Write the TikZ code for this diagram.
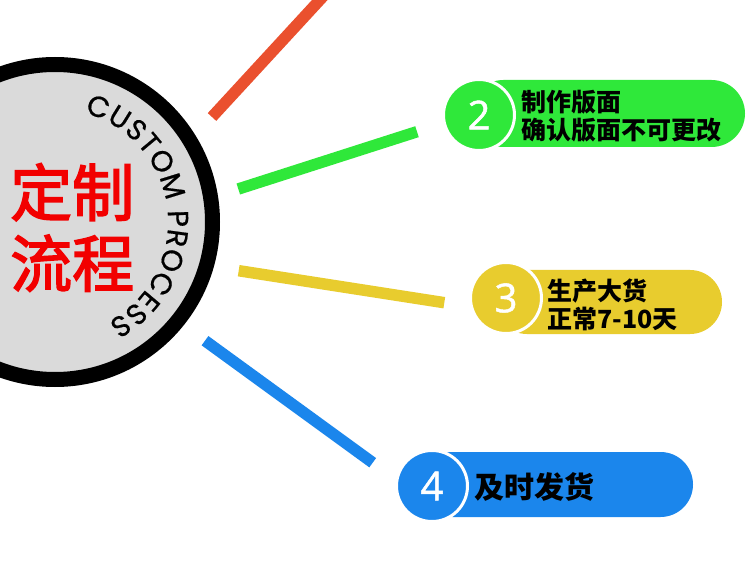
\documentclass[tikz,border=0pt]{standalone}
\usepackage{fontspec}
\newfontfamily\cjk{Noto Sans CJK SC}
\newfontfamily\cjktitle[FakeBold=2.5]{Noto Sans CJK SC}
\newfontfamily\numfont[FakeBold=1.2]{Open Sans}
\newfontfamily\arcfont[FakeBold=0.6]{Poppins}
\usetikzlibrary{decorations.text,shapes.misc}
\definecolor{cred}{HTML}{EA502E}
\definecolor{cgreen}{HTML}{2FE83A}
\definecolor{cyellow}{HTML}{E8CC2E}
\definecolor{cblue}{HTML}{1B86EC}
\definecolor{cgray}{HTML}{DADADA}
\definecolor{ctitle}{HTML}{F20000}
\begin{document}
\begin{tikzpicture}[x=1pt,y=1pt,
  bar/.style={line width=11.5pt},
  badge/.style={circle, draw=white, line width=3pt, minimum size=71pt, inner sep=0pt,
     text=white, font=\numfont\fontsize{40}{40}\selectfont},
  pill/.style={rounded rectangle, inner sep=0pt},
  pilltext/.style={anchor=west, inner sep=0pt, align=left, text=black,
     font=\cjk\bfseries\fontsize{25}{28}\selectfont}]
\useasboundingbox (0,0) rectangle (750,-588);
\fill[white] (0,0) rectangle (750,-588);
\clip (0,0) rectangle (750,-588);

% main circle
\node[circle, fill=cgray, draw=black, line width=15pt, minimum size=315pt, inner sep=0pt] (main) at (55,-222) {};
\node[anchor=west, inner sep=0pt, align=left, text=ctitle,
      font=\cjktitle\fontsize{62}{71}\selectfont] (title) at (10,-227.5) {定制\\流程};
\path[decorate, decoration={text along path,
      text={|\arcfont\fontsize{29}{29}\selectfont|CUSTOM PROCESS},
      text align=fit to path}]
  (main.center) ++(75:113) arc[start angle=75, end angle=-62, radius=113];

% bars
\coordinate (r1) at (212,-117);
\coordinate (r2) at (329,10);
\coordinate (g1) at (238.3,-189);
\coordinate (g2) at (417,-131.7);
\coordinate (y1) at (238.7,-270.7);
\coordinate (y2) at (444.3,-302.7);
\coordinate (bl1) at (205,-340.7);
\coordinate (bl2) at (372.7,-462.7);
\draw[bar, cred] (r1) -- (r2);
\draw[bar, cgreen] (g1) -- (g2);
\draw[bar, cyellow] (y1) -- (y2);
\draw[bar, cblue] (bl1) -- (bl2);

% step 2
\node[pill, fill=cgreen, minimum width=275pt, minimum height=67pt] (p2) at (607.5,-113.5) {};
\node[badge, fill=cgreen] (b2) at (479,-115) {2};
\node[pilltext] (t2) at (521,-116) {制作版面\\确认版面不可更改};

% step 3
\node[pill, fill=cyellow, minimum width=227pt, minimum height=64pt] (p3) at (608.5,-302) {};
\node[badge, fill=cyellow] (b3) at (506,-298) {3};
\node[pilltext] (t3) at (547,-305) {生产大货\\正常7-10天};

% step 4
\node[pill, fill=cblue, minimum width=273pt, minimum height=65pt] (p4) at (556.5,-484.5) {};
\node[badge, fill=cblue] (b4) at (432,-486) {4};
\node[pilltext, font=\cjk\bfseries\fontsize{30}{30}\selectfont] (t4) at (474,-487) {及时发货};
\end{tikzpicture}
\end{document}
